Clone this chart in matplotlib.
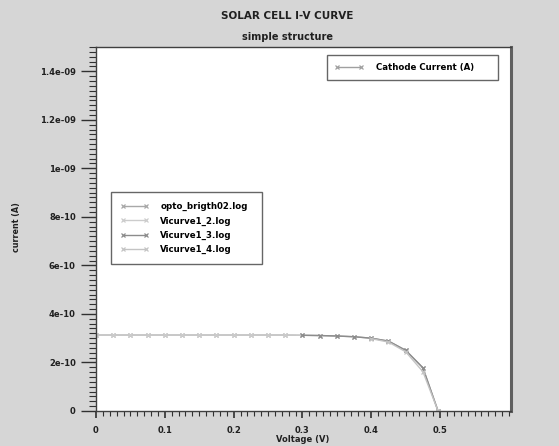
import matplotlib
matplotlib.use("Agg")
import matplotlib.pyplot as plt
from matplotlib.ticker import MultipleLocator, FuncFormatter

# voltajes (V) y corrientes (A)
v_full = [0.0, 0.025, 0.05, 0.075, 0.1, 0.125, 0.15, 0.175, 0.2, 0.225, 0.25,
          0.275, 0.3, 0.325, 0.35, 0.375, 0.4, 0.425, 0.45, 0.475, 0.497]
i_full = [3.13e-10, 3.13e-10, 3.13e-10, 3.13e-10, 3.13e-10, 3.13e-10, 3.13e-10,
          3.13e-10, 3.13e-10, 3.13e-10, 3.13e-10, 3.13e-10, 3.12e-10, 3.11e-10,
          3.09e-10, 3.06e-10, 3.00e-10, 2.88e-10, 2.50e-10, 1.78e-10, 0.0]

v_low = [0.0, 0.025, 0.05, 0.075, 0.1, 0.125, 0.15, 0.175, 0.2, 0.225, 0.25, 0.275, 0.3]
i_low = [3.13e-10, 3.13e-10, 3.13e-10, 3.13e-10, 3.13e-10, 3.13e-10, 3.13e-10,
         3.13e-10, 3.13e-10, 3.13e-10, 3.13e-10, 3.13e-10, 3.12e-10]

v_mid = [0.3, 0.325, 0.35, 0.375, 0.4, 0.425, 0.45, 0.475, 0.497]
i_mid = [3.12e-10, 3.11e-10, 3.09e-10, 3.06e-10, 3.00e-10, 2.88e-10, 2.50e-10, 1.78e-10, 0.0]

v_high = [0.4, 0.425, 0.45, 0.475, 0.497]
i_high = [2.98e-10, 2.84e-10, 2.44e-10, 1.62e-10, 0.0]

series_labels = ["opto_brigth02.log", "Vicurve1_2.log", "Vicurve1_3.log", "Vicurve1_4.log"]
series_colors = ["#a8a8a8", "#cccccc", "#8c8c8c", "#c4c4c4"]

x_ticks = [0, 0.1, 0.2, 0.3, 0.4, 0.5]
y_ticks = [0, 2e-10, 4e-10, 6e-10, 8e-10, 1e-09, 1.2e-09, 1.4e-09]

plt.rcParams['font.family'] = ['DejaVu Sans']

fig = plt.figure(figsize=(5.59, 4.46), dpi=100)
fig.patch.set_facecolor("#d6d6d6")
ax = fig.add_axes([96 / 559, 1 - 411 / 446, 415 / 559, 364 / 446])
ax.set_facecolor("white")

datos = [(v_full, i_full), (v_low, i_low), (v_mid, i_mid), (v_high, i_high)]
lineas = []
for (vx, iy), lab, col in zip(datos, series_labels, series_colors):
    ln, = ax.plot(vx, iy, color=col, lw=1.0, marker="x", ms=3.5, mew=0.9, label=lab)
    lineas.append(ln)

ax.set_xlim(0, 0.603)
ax.set_ylim(0, 1.5e-9)
ax.set_xticks(x_ticks)
ax.set_yticks(y_ticks)
ax.xaxis.set_minor_locator(MultipleLocator(0.01))
ax.yaxis.set_minor_locator(MultipleLocator(2e-11))
ax.xaxis.set_major_formatter(FuncFormatter(lambda v, p: f"{v:g}"))
ax.yaxis.set_major_formatter(FuncFormatter(lambda v, p: f"{v:g}"))

ax.tick_params(axis="y", which="major", length=10.5, width=1, color="#303030",
               pad=4, labelsize=6, labelcolor="#202020")
ax.tick_params(axis="y", which="minor", length=5, width=0.8, color="#303030")
ax.tick_params(axis="x", which="major", length=5, width=1.2, color="#303030",
               pad=6, labelsize=6, labelcolor="#202020")
ax.tick_params(axis="x", which="minor", length=3.5, width=0.8, color="#303030")
for lbl in ax.get_xticklabels() + ax.get_yticklabels():
    lbl.set_fontweight("bold")

for s in ["left", "bottom", "top"]:
    ax.spines[s].set_color("#404040")
    ax.spines[s].set_linewidth(1.0)
ax.spines["right"].set_color("#606060")
ax.spines["right"].set_linewidth(2.2)

fig.text(287 / 559, 1 - 16 / 446, "SOLAR CELL I-V CURVE", ha="center", va="center",
         fontsize=7.5, fontweight="bold", color="#202020")
fig.text(287 / 559, 1 - 37 / 446, "simple structure", ha="center", va="center",
         fontsize=7, fontweight="bold", color="#202020")
fig.text(16 / 559, 1 - 227 / 446, "current (A)", rotation=90, ha="center", va="center",
         fontsize=5.8, fontweight="bold", color="#202020")
fig.text(303 / 559, 1 - 440 / 446, "Voltage (V)", ha="center", va="center",
         fontsize=6, fontweight="bold", color="#202020")

# leyenda superior (corriente de catodo)
cat, = ax.plot([], [], color="#a0a0a0", lw=1.0, marker="x", ms=3.5, mew=0.9)
leg1 = ax.legend([cat], ["Cathode Current (A)"], loc="upper left",
                 bbox_to_anchor=((327 - 96) / 415, (411 - 55) / 364, (498 - 327) / 415, 0.0),
                 mode="expand", frameon=True, fancybox=False, borderaxespad=0, numpoints=2,
                 handlelength=3.3, handletextpad=1.5, borderpad=0.9,
                 prop={"weight": "bold", "size": 6.2})
leg1.get_frame().set_edgecolor("#404040")
leg1.get_frame().set_linewidth(1.0)
ax.add_artist(leg1)

leg2 = ax.legend(lineas, series_labels, loc="upper left",
                 bbox_to_anchor=((110.7 - 96) / 415, (411 - 192) / 364, (262 - 110.7) / 415, 0.0),
                 mode="expand", frameon=True, fancybox=False, borderaxespad=0, numpoints=2,
                 handlelength=3.3, handletextpad=1.3, borderpad=1.15, labelspacing=0.62,
                 prop={"weight": "bold", "size": 6.2})
leg2.get_frame().set_edgecolor("#404040")
leg2.get_frame().set_linewidth(1.0)

fig.savefig("out.png", dpi=100, facecolor=fig.get_facecolor())
